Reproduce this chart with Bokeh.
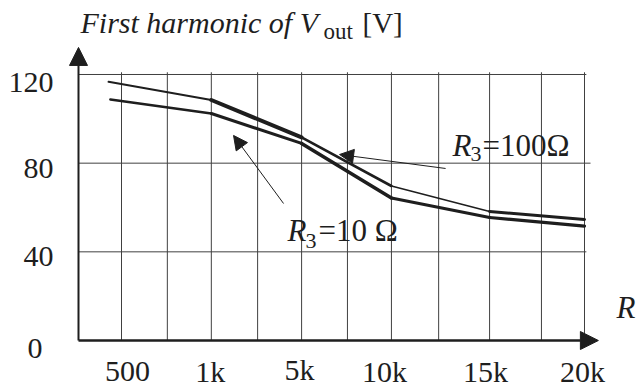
from bokeh.plotting import figure
from bokeh.models import Range1d, Arrow, NormalHead, Label
from bokeh.core.properties import value
from bokeh.embed import file_html
from bokeh.resources import INLINE

# ---- data -------------------------------------------------------------
# vertical grid lines (grid index units); every second one carries a label
grid_x = [0.0, 0.99, 1.94, 2.94, 3.89, 4.88, 5.83, 6.85, 7.95, 9.07, 10.0]
x_tick_pos = [0.0, 1.94, 3.89, 5.83, 7.95, 10.0]
x_tick_labels = ["500", "1k", "5k", "10k", "15k", "20k"]
y_ticks = [0, 40, 80, 120]
y_tick_labels = ["0", "40", "80", "120"]

# first harmonic of Vout [V] for R3 = 100 Ω
r100_x = [-0.28, 1.94, 3.89, 5.83, 7.95, 10.0]
r100_v = [116.7, 108.5, 91.6, 69.7, 58.2, 54.6]
# first harmonic of Vout [V] for R3 = 10 Ω
r10_x = [-0.24, 1.94, 3.89, 5.83, 7.95, 10.0]
r10_v = [108.7, 102.4, 88.9, 64.3, 55.5, 51.6]

# ---- styling ----------------------------------------------------------
W, H = 636, 389
PX_U = 46.3          # pixels per grid step
X0 = 121             # pixel column of the first labelled grid line
PX_V = 88.67 / 40    # pixels per volt
Y0 = 340             # pixel row of the zero line
INK = "#1e1e1e"
GRID = "#404040"
SERIF = "Liberation Serif"
LIFT = 11            # baseline correction for the text renderer

r100_w = [2.0, 4.0, 2.6, 1.6, 3.0]
r10_w = [2.6, 3.0, 3.6, 3.2, 3.2]
x_lab_dx = [6, -1, -2, -7, -4, -2]
x_lab_dy = [42 - LIFT, 42 - LIFT, 40 - LIFT, 42 - LIFT, 42 - LIFT, 42 - LIFT]
y_lab_dx = [-11, 0, 0, 0]
y_lab_dy = [19 - LIFT, 16 - LIFT, 16 - LIFT, 19 - LIFT]

p = figure(
    width=W, height=H, output_backend="svg", toolbar_location=None,
    x_range=Range1d(-X0 / PX_U, (W - X0) / PX_U),
    y_range=Range1d(-(H - Y0) / PX_V, Y0 / PX_V),
    x_axis_type=None, y_axis_type=None, min_border=0,
    outline_line_color=None, background_fill_color="white",
    border_fill_color="white",
)

x_axis_pos = (78 - X0) / PX_U

# grid
p.segment(x0=grid_x, y0=0, x1=grid_x, y1=121, line_color=GRID, line_width=1)
p.segment(x0=x_axis_pos, y0=y_ticks[1:], x1=[10.04, 10.13, 10.04], y1=y_ticks[1:],
          line_color=GRID, line_width=1)

# axes with arrow heads
p.add_layout(Arrow(end=NormalHead(size=18, fill_color=INK, line_color=INK),
                   x_start=x_axis_pos, y_start=0, x_end=x_axis_pos, y_end=132.2,
                   line_color=INK, line_width=2))
p.add_layout(Arrow(end=NormalHead(size=18, fill_color=INK, line_color=INK),
                   x_start=x_axis_pos, y_start=0, x_end=10.30, y_end=0,
                   line_color=INK, line_width=2.5))

# curves
for xs, vs, ws in ((r100_x, r100_v, r100_w), (r10_x, r10_v, r10_w)):
    p.segment(x0=xs[:-1], y0=vs[:-1], x1=xs[1:], y1=vs[1:],
              line_width=ws, line_color=INK, line_cap="round")

# tick labels
p.text(x=x_tick_pos, y=0, text=x_tick_labels, x_offset=x_lab_dx, y_offset=x_lab_dy,
       text_align="center", text_baseline="alphabetic",
       text_font=value(SERIF), text_font_size="30px", text_color=INK)
p.text(x=(53 - X0) / PX_U, y=y_ticks, text=y_tick_labels, x_offset=y_lab_dx,
       y_offset=y_lab_dy, text_align="right", text_baseline="alphabetic",
       text_font=value(SERIF), text_font_size="30px", text_color=INK)

# pointer arrows for the curve names
p.add_layout(Arrow(end=NormalHead(size=14, fill_color=INK, line_color=INK),
                   x_start=7.0, y_start=77.6, x_end=4.71, y_end=83.9,
                   line_color=INK, line_width=1))
p.add_layout(Arrow(end=NormalHead(size=14, fill_color=INK, line_color=INK),
                   x_start=3.5, y_start=61.8, x_end=2.42, y_end=92.5,
                   line_color=INK, line_width=1))


def put(text, px, py, size, italic=False):
    p.add_layout(Label(x=px, y=H - py + LIFT, x_units="screen", y_units="screen",
                       text=text, text_font=SERIF, text_font_size=f"{size}px",
                       text_font_style="italic" if italic else "normal",
                       text_color=INK, text_baseline="alphabetic",
                       text_align="left"))


# axis titles
put("First harmonic of V", 80, 33, 30, italic=True)
put("out", 323, 42, 23)
put("[V]", 362, 33, 29)
put("R", 616, 318, 31, italic=True)

# curve names
put("R", 452, 156, 31, italic=True)
put("3", 470, 164, 22)
put("=100Ω", 482, 156, 31)
put("R", 287, 241, 31, italic=True)
put("3", 305, 251, 22)
put("=10 Ω", 318, 241, 31)

open("out.html", "w").write(file_html(p, INLINE))
